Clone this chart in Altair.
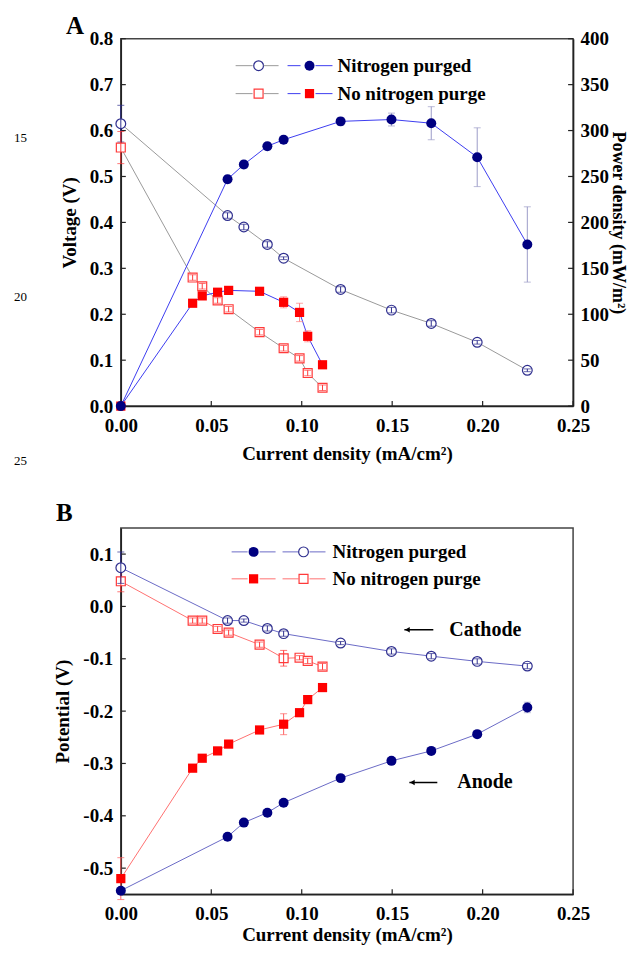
import altair as alt
import pandas as pd

# ---------------- data ----------------
x_n = [0.0, 0.059, 0.068, 0.081, 0.090, 0.1215, 0.1496, 0.1716, 0.197, 0.2247]
x_nn = [0.0, 0.0397, 0.045, 0.0535, 0.0596, 0.0767, 0.090, 0.0988, 0.1033, 0.1115]

# Panel A
voltage_n = [0.615, 0.415, 0.390, 0.352, 0.322, 0.254, 0.209, 0.180, 0.139, 0.078]
voltage_n_err = [0.04, 0.006, 0.006, 0.006, 0.003, 0.006, 0.006, 0.006, 0.004, 0.003]
power_n = [0, 247, 263, 283, 290, 310, 312, 308, 271, 176]
power_n_err = [0, 4, 4, 4, 4, 4, 7, 18, 32, 41]
voltage_nn = [0.563, 0.280, 0.261, 0.230, 0.211, 0.161, 0.126, 0.104, 0.072, 0.040]
voltage_nn_err = [0.035, 0.006, 0.006, 0.006, 0.006, 0.006, 0.006, 0.006, 0.006, 0.006]
power_nn = [0, 112, 120, 124, 126, 125, 113, 102, 76, 45]
power_nn_err = [0, 3, 3, 3, 3, 3, 6, 10, 6, 2]

# Panel B
cathode_n = [0.074, -0.027, -0.027, -0.042, -0.052, -0.070, -0.086, -0.095, -0.105, -0.114]
cathode_n_err = [0.03, 0.005, 0.003, 0.005, 0.005, 0.003, 0.005, 0.005, 0.005, 0.005]
anode_n = [-0.543, -0.440, -0.413, -0.394, -0.375, -0.328, -0.295, -0.276, -0.244, -0.193]
anode_n_err = [0.005, 0.004, 0.004, 0.004, 0.004, 0.004, 0.004, 0.004, 0.004, 0.01]
cathode_nn = [0.048, -0.027, -0.027, -0.043, -0.050, -0.073, -0.099, -0.098, -0.104, -0.115]
cathode_nn_err = [0.02, 0.005, 0.005, 0.005, 0.005, 0.005, 0.015, 0.004, 0.005, 0.006]
anode_nn = [-0.520, -0.309, -0.290, -0.276, -0.263, -0.236, -0.225, -0.203, -0.178, -0.155]
anode_nn_err = [0.04, 0.003, 0.003, 0.003, 0.003, 0.003, 0.02, 0.003, 0.003, 0.003]

x_ticks = [0.0, 0.05, 0.10, 0.15, 0.20, 0.25]
voltage_ticks = [0.0, 0.1, 0.2, 0.3, 0.4, 0.5, 0.6, 0.7, 0.8]
power_ticks = [0, 50, 100, 150, 200, 250, 300, 350, 400]
potential_ticks = [-0.5, -0.4, -0.3, -0.2, -0.1, 0.0, 0.1]

legend_labels = ["Nitrogen purged", "No nitrogen purge"]
line_numbers = ["15", "20", "25"]

# ---------------- styling ----------------
FONT = "Liberation Serif"
W, HA, HB = 453, 368, 367
NAVY = "#000080"
OPEN_N = "#2e2e8e"
RED = "#ff0000"
OPEN_R = "#ff3a3a"
GREY = "#9a9a9a"
BLUE_LINE = "#3d3df0"
ERR_N = "#9c9cc8"
B_BLUE = "#6a6ac6"
B_RED = "#ff7070"


def frame(xs, ys, errs):
    return pd.DataFrame({
        "x": xs, "y": ys,
        "lo": [a - b for a, b in zip(ys, errs)],
        "hi": [a + b for a, b in zip(ys, errs)],
    })


def make_x(title_pad):
    return alt.X("x:Q", scale=alt.Scale(domain=[0, 0.25], nice=False, zero=False),
                 axis=alt.Axis(values=x_ticks, format=".2f", ticks=False, labelPadding=10, labelFlush=False,
                               titlePadding=title_pad, title="Current density (mA/cm²)"))


XA = make_x(9)
XB = make_x(2)


def make_y(domain, axis):
    def f(field):
        return alt.Y(f"{field}:Q", scale=alt.Scale(domain=domain, nice=False, zero=False), axis=axis)
    return f


Y_volt = make_y([0, 0.8], alt.Axis(values=voltage_ticks, format=".1f", ticks=False, labelPadding=8,
                                   labelFlush=False, titlePadding=10, title="Voltage (V)"))
Y_pow = make_y([0, 400], alt.Axis(values=power_ticks, format="d", ticks=False, labelPadding=7,
                                  labelFlush=False, titlePadding=0, titleFontSize=18,
                                  orient="right", title="Power density (mW/m²)"))
Y_pot = make_y([-0.55, 0.15], alt.Axis(values=potential_ticks, ticks=False, labelPadding=8, titlePadding=10,
                                       labelFlush=False,
                                       labelExpr="replace(format(datum.value, '.1f'), '\u2212', '-')",
                                       title="Potential (V)"))


def series(X, df, Yf, shape, color, filled, line_color, err_color, size):
    line = alt.Chart(df).mark_line(color=line_color, strokeWidth=1).encode(x=X, y=Yf("y"))
    rule = alt.Chart(df).mark_rule(color=err_color, strokeWidth=1).encode(x=X, y=Yf("lo"), y2="hi")
    cap_lo = alt.Chart(df).mark_tick(orient="horizontal", size=7, thickness=1, color=err_color).encode(x=X, y=Yf("lo"))
    cap_hi = alt.Chart(df).mark_tick(orient="horizontal", size=7, thickness=1, color=err_color).encode(x=X, y=Yf("hi"))
    if filled:
        pts = alt.Chart(df).mark_point(shape=shape, filled=True, size=size, color=color, opacity=1).encode(x=X, y=Yf("y"))
        return [line, rule, cap_lo, cap_hi, pts]
    pts = alt.Chart(df).mark_point(shape=shape, filled=True, fill="white", stroke=color, strokeWidth=1.2,
                                   size=size, opacity=1).encode(x=X, y=Yf("y"))
    return [line, pts, rule, cap_lo, cap_hi]


ONE = alt.Data(values=[{"a": 1}])


def hline(x1, x2, y, color, width=1.0):
    return alt.Chart(ONE).mark_rule(color=color, strokeWidth=width).encode(
        x=alt.value(x1), x2=alt.value(x2), y=alt.value(y))


def marker(x, y, shape, color, filled, size):
    if filled:
        m = alt.Chart(ONE).mark_point(shape=shape, filled=True, color=color, size=size, opacity=1)
    else:
        m = alt.Chart(ONE).mark_point(shape=shape, filled=True, fill="white", stroke=color,
                                      strokeWidth=1.2, size=size, opacity=1)
    return m.encode(x=alt.value(x), y=alt.value(y))


def label(x, y, txt, size=19, weight="bold", align="left"):
    return alt.Chart(ONE).mark_text(text=txt, font=FONT, fontSize=size, fontWeight=weight, align=align,
                                    baseline="middle", color="black").encode(x=alt.value(x), y=alt.value(y))


def x_tick_layer(X, H):
    return alt.Chart(pd.DataFrame({"x": x_ticks})).mark_rule(color="#222", strokeWidth=1.2).encode(
        x=X, y=alt.value(H), y2=alt.value(H - 5))


def y_tick_layer(ticks, Yf, right=False):
    x1, x2 = (W - 5, W) if right else (0, 5)
    return alt.Chart(pd.DataFrame({"y": ticks})).mark_rule(color="#222", strokeWidth=1.2).encode(
        y=Yf("y"), x=alt.value(x1), x2=alt.value(x2))


# ---------------- Panel A ----------------
dA_vn = frame(x_n, voltage_n, voltage_n_err)
dA_pn = frame(x_n, power_n, power_n_err)
dA_vnn = frame(x_nn, voltage_nn, voltage_nn_err)
dA_pnn = frame(x_nn, power_nn, power_nn_err)

left_A = alt.layer(
    x_tick_layer(XA, HA),
    y_tick_layer(voltage_ticks, Y_volt),
    *series(XA, dA_vn, Y_volt, "circle", OPEN_N, False, GREY, OPEN_N, 95),
    *series(XA, dA_vnn, Y_volt, "square", OPEN_R, False, GREY, OPEN_R, 80),
)
right_A = alt.layer(
    y_tick_layer(power_ticks, Y_pow, right=True),
    *series(XA, dA_pnn, Y_pow, "square", RED, True, BLUE_LINE, "#ff8080", 85),
    *series(XA, dA_pn, Y_pow, "circle", NAVY, True, BLUE_LINE, ERR_N, 100),
)

legend_A = [
    hline(115, 132, 27, GREY), marker(138, 27, "circle", OPEN_N, False, 95), hline(143, 158, 27, GREY),
    hline(167, 180, 27, BLUE_LINE), marker(189, 27, "circle", NAVY, True, 100), hline(195, 212, 27, BLUE_LINE),
    label(217, 27, legend_labels[0]),
    hline(115, 132, 55, GREY), marker(138, 55, "square", OPEN_R, False, 80), hline(143, 158, 55, GREY),
    hline(167, 180, 55, BLUE_LINE), marker(189, 55, "square", RED, True, 85), hline(195, 212, 55, BLUE_LINE),
    label(217, 55, legend_labels[1]),
    label(-55, -12.5, "A", size=25),
    label(-107, 99, line_numbers[0], size=13, weight="normal"),
    label(-107, 259, line_numbers[1], size=13, weight="normal"),
    label(-107, 423, line_numbers[2], size=13, weight="normal"),
]

panel_A = alt.layer(left_A, right_A, *legend_A).resolve_scale(y="independent").properties(width=W, height=HA)

# ---------------- Panel B ----------------
dB_cn = frame(x_n, cathode_n, cathode_n_err)
dB_an = frame(x_n, anode_n, anode_n_err)
dB_cnn = frame(x_nn, cathode_nn, cathode_nn_err)
dB_ann = frame(x_nn, anode_nn, anode_nn_err)

legend_B = [
    hline(111, 127, 24, B_BLUE), marker(133, 24, "circle", NAVY, True, 100), hline(139, 155, 24, B_BLUE),
    hline(162, 178, 24, B_BLUE), marker(183, 24, "circle", OPEN_N, False, 95), hline(189, 205, 24, B_BLUE),
    label(212, 24, legend_labels[0]),
    hline(111, 127, 51, B_RED), marker(133, 51, "square", RED, True, 85), hline(139, 155, 51, B_RED),
    hline(162, 178, 51, B_RED), marker(183, 51, "square", OPEN_R, False, 80), hline(189, 205, 51, B_RED),
    label(212, 51, legend_labels[1]),
    hline(284, 313, 102, "black", 1.5), marker(287, 102, "triangle-left", "black", True, 30),
    label(329, 102, "Cathode", size=20),
    hline(289, 317, 255, "black", 1.5), marker(292, 255, "triangle-left", "black", True, 30),
    label(337, 255, "Anode", size=20),
    label(-65, -15, "B", size=25),
]

panel_B = alt.layer(
    x_tick_layer(XB, HB),
    y_tick_layer(potential_ticks, Y_pot),
    *series(XB, dB_cnn, Y_pot, "square", OPEN_R, False, B_RED, OPEN_R, 80),
    *series(XB, dB_ann, Y_pot, "square", RED, True, B_RED, "#ff6060", 85),
    *series(XB, dB_cn, Y_pot, "circle", OPEN_N, False, B_BLUE, OPEN_N, 95),
    *series(XB, dB_an, Y_pot, "circle", NAVY, True, B_BLUE, ERR_N, 100),
    *legend_B,
).properties(width=W, height=HB)

chart = alt.vconcat(panel_A, panel_B, spacing=31).properties(
    padding={"left": 5, "top": 4, "right": 0, "bottom": 0}
).configure_view(stroke="#444", strokeWidth=1.5).configure_axis(
    labelFont=FONT, labelFontSize=19, labelFontWeight="bold", labelColor="black",
    titleFont=FONT, titleFontSize=19, titleFontWeight="bold", titleColor="black",
    domainColor="#222", domainWidth=1.5, grid=False,
)

chart.save("out.html", embed_options={"renderer": "svg", "actions": False})
